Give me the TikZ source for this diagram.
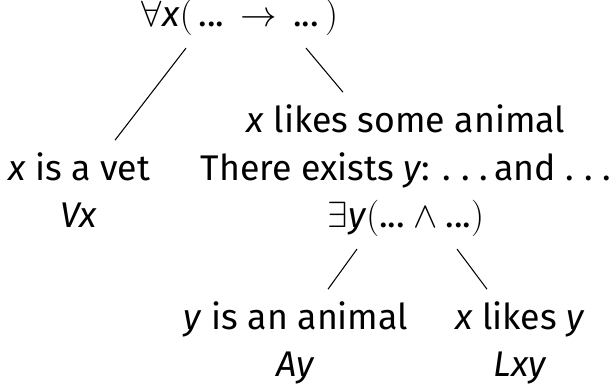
\documentclass[tikz,border=0pt]{standalone}
\usepackage{amsmath,amssymb}
\usepackage{fontspec}
\setmainfont{Fira Sans}
\usetikzlibrary{positioning}

\newcommand{\sdots}{.\hspace{0.28em}.\hspace{0.28em}.}

\begin{document}
\begin{tikzpicture}[
		formula/.style={align=center, inner sep=0pt, outer sep=0.24cm, anchor=base, font=\fontsize{20.3}{27.3}\selectfont},
		branch/.style={black, line width=0.6pt}]
		\useasboundingbox (0,0) rectangle (12.3,7.72);
		
		% Root
		\node[formula] (root) at (4.80, 7.18) {$\forall$\textit{x}$(\,\text{...}\,\to\,\text{...}\,)$};
		
		% Level 1
		\node[formula] (vet) at (1.58, 3.16) {\textit{x} is a vet\\ \textit{Vx}};
		\node[formula] (some) at (8.12, 3.16) {\textit{x} likes some animal\\ There exists \textit{y}: \sdots\,and \sdots\\ $\exists$\textit{y}$(\text{...}\wedge\text{...})$};
		
		% Level 2
		\node[formula] (animal) at (5.92, 0.18) {\textit{y} is an animal\\ \textit{Ay}};
		\node[formula] (likes) at (10.4, 0.18) {\textit{x} likes \textit{y}\\ \textit{Lxy}};
		
		% Branches
		\draw[branch] ([xshift=-1.08cm]root.south) -- ([xshift=0.72cm]vet.north);
		\draw[branch] ([xshift=1.32cm]root.south) -- ([xshift=-1.26cm]some.north);
		\draw[branch] ([xshift=-0.98cm]some.south) -- ([xshift=0.64cm]animal.north);
		\draw[branch] ([xshift=1.02cm]some.south) -- ([xshift=-0.66cm]likes.north);
		
	\end{tikzpicture}
\end{document}
